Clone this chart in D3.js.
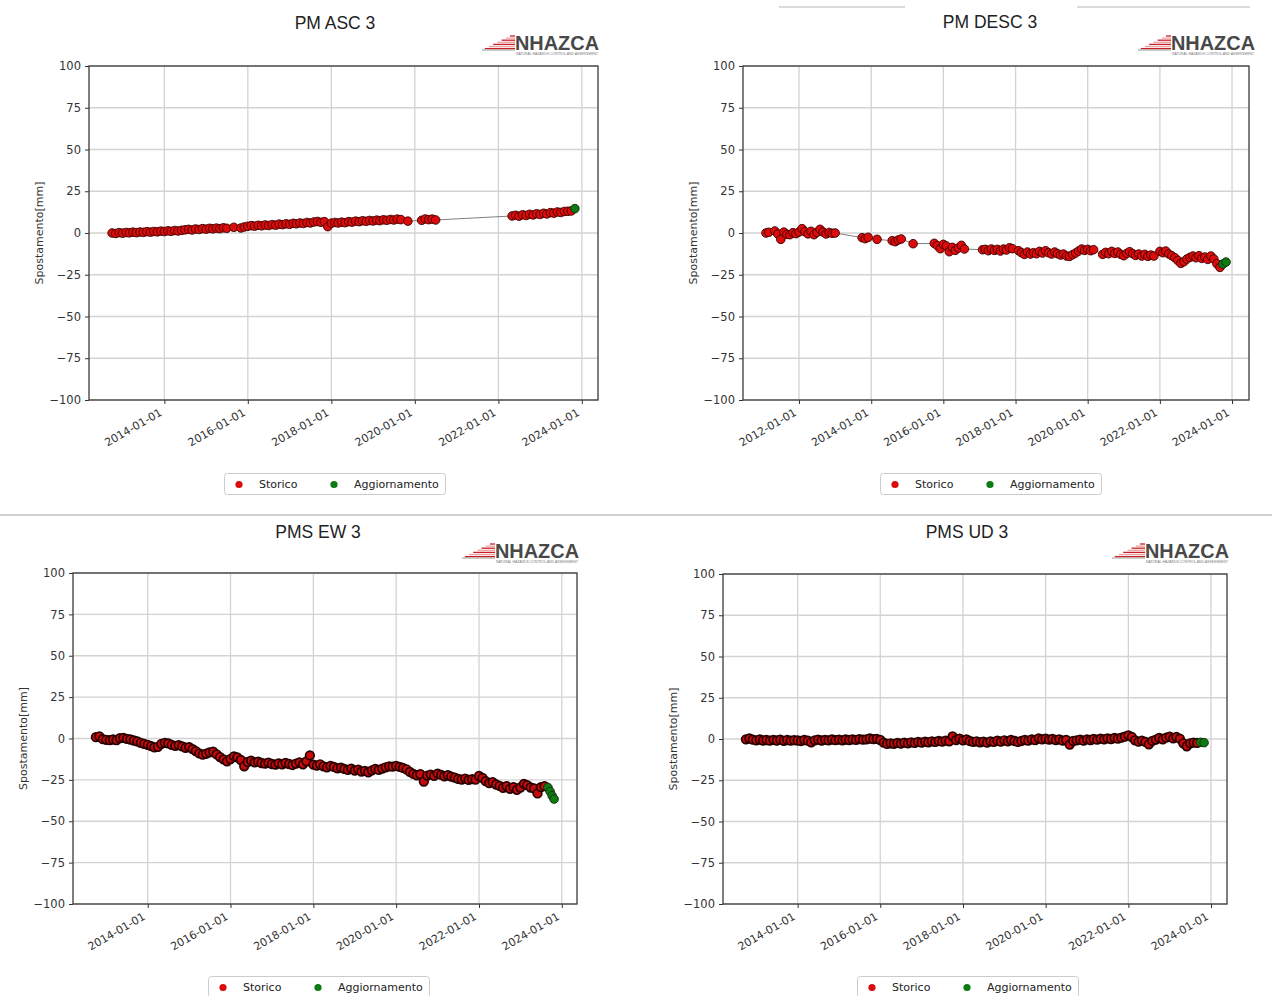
<!DOCTYPE html>
<html>
<head>
<meta charset="utf-8">
<script src="https://cdn.jsdelivr.net/npm/d3@7"></script>
<style>
body { margin: 0; background: #fff; }
svg { display: block; font-family: "DejaVu Sans", sans-serif; }
</style>
</head>
<body>
<div id="my_dataviz"></div>
<script>

// PM ASC 3
var ascDates = [
  "2012-10","2012-11","2012-12",
  "2013-01","2013-02","2013-03","2013-04","2013-05","2013-06","2013-07","2013-08","2013-09","2013-10","2013-11","2013-12",
  "2014-01","2014-02","2014-03","2014-04","2014-05","2014-06","2014-07","2014-08","2014-09","2014-10","2014-11","2014-12",
  "2015-01","2015-02","2015-03","2015-04","2015-05","2015-06","2015-07","2015-09","2015-11","2015-12",
  "2016-01","2016-02","2016-03","2016-04","2016-05","2016-06","2016-07","2016-08","2016-09","2016-10","2016-11","2016-12",
  "2017-01","2017-02","2017-03","2017-04","2017-05","2017-06","2017-07","2017-08","2017-09","2017-10","2017-11","2017-12",
  "2018-01","2018-02","2018-03","2018-04","2018-05","2018-06","2018-07","2018-08","2018-09","2018-10","2018-11","2018-12",
  "2019-01","2019-02","2019-03","2019-04","2019-05","2019-06","2019-07","2019-08","2019-09","2019-11",
  "2020-03","2020-04","2020-05","2020-06","2020-07",
  "2022-05","2022-06","2022-07","2022-08","2022-09","2022-10","2022-11","2022-12",
  "2023-01","2023-02","2023-03","2023-04","2023-05","2023-06","2023-07","2023-08","2023-09","2023-10"
];
var ascValues = [
  0.0,-0.3,0.2,
  -0.1,0.3,0.1,0.5,0.2,0.6,0.4,0.8,0.5,0.9,0.7,1.1,
  0.9,1.3,1.0,1.5,1.2,1.6,1.9,2.2,1.8,2.4,2.1,2.6,
  2.3,2.8,2.5,2.9,2.6,3.1,2.8,3.4,3.0,3.6,
  4.0,4.4,4.1,4.6,4.3,4.8,4.5,5.0,4.7,5.3,5.0,5.5,
  5.2,5.8,5.5,6.0,5.7,6.3,6.0,6.6,6.9,6.4,6.8,3.8,
  5.9,6.3,6.0,6.5,6.2,6.8,6.5,7.1,6.8,7.3,7.0,7.5,
  7.2,7.7,7.4,7.9,7.6,8.1,7.8,8.3,8.0,7.1,
  7.6,8.4,8.0,8.3,7.8,
  10.2,10.6,10.1,10.9,10.5,11.2,10.8,11.5,
  11.1,11.8,11.4,12.2,11.9,12.6,12.3,12.9,13.0,13.2
];
var ascNewDates = ["2023-11"];
var ascNewValues = [14.6];

// PM DESC 3
var descDates = [
  "2011-02","2011-03","2011-05","2011-06","2011-07","2011-08","2011-09","2011-10","2011-11","2011-12",
  "2012-01","2012-02","2012-03","2012-04","2012-05","2012-06","2012-07","2012-08","2012-09","2012-10","2012-11","2012-12",
  "2013-01","2013-10","2013-11","2013-12",
  "2014-03","2014-08","2014-09","2014-10","2014-11",
  "2015-03","2015-10","2015-11","2015-12",
  "2016-01","2016-02","2016-03","2016-04","2016-05","2016-06","2016-07","2016-08",
  "2017-02","2017-03","2017-04","2017-05","2017-06","2017-07","2017-08","2017-09","2017-10","2017-11","2017-12",
  "2018-02","2018-03","2018-04","2018-05","2018-06","2018-07","2018-08","2018-09","2018-10","2018-11","2018-12",
  "2019-01","2019-02","2019-03","2019-04","2019-05","2019-06","2019-07","2019-08","2019-09","2019-10","2019-11","2019-12",
  "2020-01","2020-02","2020-03","2020-06","2020-07","2020-08","2020-09","2020-10","2020-11","2020-12",
  "2021-01","2021-02","2021-03","2021-04","2021-05","2021-06","2021-07","2021-08","2021-09","2021-10","2021-11",
  "2022-01","2022-02","2022-03","2022-04","2022-05","2022-06","2022-07","2022-08","2022-09","2022-10","2022-11","2022-12",
  "2023-01","2023-02","2023-03","2023-04","2023-05","2023-06","2023-07","2023-08","2023-09"
];
var descValues = [
  0.0,0.4,1.2,-0.6,-3.8,0.5,-0.8,-1.0,0.2,-0.4,
  0.6,2.6,0.8,-0.5,1.0,-1.0,0.4,2.2,0.6,-0.6,0.3,-0.2,
  0.0,-2.8,-3.4,-2.6,
  -3.8,-4.6,-5.2,-4.2,-3.6,
  -6.4,-6.2,-7.6,-9.4,
  -6.8,-7.8,-11.2,-8.6,-10.4,-9.0,-7.4,-9.6,
  -10.0,-9.8,-10.6,-9.6,-10.4,-9.8,-10.8,-9.6,-10.2,-8.8,-9.4,
  -10.6,-11.8,-12.8,-11.4,-12.6,-11.8,-12.4,-11.0,-12.0,-10.6,-11.8,
  -12.6,-11.4,-12.4,-13.2,-12.6,-13.8,-14.0,-13.0,-12.0,-10.8,-9.6,-10.4,
  -9.8,-10.6,-10.0,-12.8,-11.6,-12.4,-11.0,-12.2,-11.4,-12.8,
  -13.6,-12.2,-11.2,-12.4,-13.4,-12.6,-13.8,-12.8,-14.0,-13.2,-13.8,
  -11.0,-11.8,-10.8,-12.6,-13.6,-14.8,-16.4,-18.2,-17.2,-15.6,-14.6,-13.8,
  -14.8,-13.6,-15.2,-14.4,-15.8,-13.8,-15.6,-18.4,-20.6
];
var descNewDates = ["2023-10","2023-11"];
var descNewValues = [-18.6,-17.4];

// PMS EW 3
var ewDates = [
  "2012-10","2012-11","2012-12",
  "2013-01","2013-02","2013-03","2013-04","2013-05","2013-06","2013-07","2013-08","2013-09","2013-10","2013-11","2013-12",
  "2014-01","2014-02","2014-03","2014-04","2014-05","2014-06","2014-07","2014-08","2014-09","2014-10","2014-11","2014-12",
  "2015-01","2015-02","2015-03","2015-04","2015-05","2015-06","2015-07","2015-08","2015-09","2015-10","2015-11","2015-12",
  "2016-01","2016-02","2016-03","2016-04","2016-05","2016-06","2016-07","2016-08","2016-09","2016-10","2016-11","2016-12",
  "2017-01","2017-02","2017-03","2017-04","2017-05","2017-06","2017-07","2017-08","2017-09","2017-10","2017-11","2017-12",
  "2018-01","2018-02","2018-03","2018-04","2018-05","2018-06","2018-07","2018-08","2018-09","2018-10","2018-11","2018-12",
  "2019-01","2019-02","2019-03","2019-04","2019-05","2019-06","2019-07","2019-08","2019-09","2019-10","2019-11","2019-12",
  "2020-01","2020-02","2020-03","2020-04","2020-05","2020-06","2020-07","2020-08","2020-09","2020-10","2020-11","2020-12",
  "2021-01","2021-02","2021-03","2021-04","2021-05","2021-06","2021-07","2021-08","2021-09","2021-10","2021-11","2021-12",
  "2022-01","2022-02","2022-03","2022-04","2022-05","2022-06","2022-07","2022-08","2022-09","2022-10","2022-11","2022-12",
  "2023-01","2023-02","2023-03","2023-04","2023-05","2023-06","2023-07","2023-08"
];
var ewValues = [
  0.8,1.2,-0.4,
  -0.8,-1.0,-0.6,-0.9,0.2,0.4,-0.2,-0.6,-1.2,-1.8,-2.6,-3.2,
  -3.8,-4.6,-5.4,-5.0,-3.2,-2.6,-3.0,-3.8,-4.4,-4.0,-4.8,-5.6,
  -5.2,-6.4,-7.6,-9.0,-9.8,-9.2,-8.4,-8.0,-9.6,-11.2,-12.6,-13.8,
  -12.4,-10.8,-11.4,-13.0,-16.8,-14.2,-13.4,-14.4,-14.0,-14.8,-15.2,-14.6,
  -15.4,-15.8,-15.0,-15.6,-14.8,-15.4,-16.0,-15.2,-14.4,-15.6,-13.8,-10.2,
  -15.8,-16.4,-15.6,-16.8,-17.4,-16.6,-17.2,-18.0,-17.6,-18.4,-19.0,-18.2,
  -19.4,-18.8,-20.0,-19.6,-20.4,-19.2,-18.4,-19.0,-18.2,-17.4,-16.8,-17.0,
  -16.6,-17.2,-17.8,-18.6,-20.2,-21.4,-22.2,-21.6,-26.0,-22.4,-21.8,-22.6,
  -21.2,-22.0,-22.8,-22.2,-23.0,-23.6,-24.4,-24.8,-24.2,-25.0,-24.6,-24.8,
  -22.6,-23.8,-25.8,-27.0,-26.4,-27.8,-28.6,-29.8,-28.8,-30.4,-29.4,-31.0,
  -29.6,-27.4,-28.2,-29.6,-30.2,-33.2,-29.4,-28.8
];
var ewNewDates = ["2023-09-01","2023-09-20","2023-10-08","2023-10-25"];
var ewNewValues = [-29.6,-32.0,-34.6,-36.6];

// PMS UD 3
var udDates = [
  "2012-10","2012-11","2012-12",
  "2013-01","2013-02","2013-03","2013-04","2013-05","2013-06","2013-07","2013-08","2013-09","2013-10","2013-11","2013-12",
  "2014-01","2014-02","2014-03","2014-04","2014-05","2014-06","2014-07","2014-08","2014-09","2014-10","2014-11","2014-12",
  "2015-01","2015-02","2015-03","2015-04","2015-05","2015-06","2015-07","2015-08","2015-09","2015-10","2015-11","2015-12",
  "2016-01","2016-02","2016-03","2016-04","2016-05","2016-06","2016-07","2016-08","2016-09","2016-10","2016-11","2016-12",
  "2017-01","2017-02","2017-03","2017-04","2017-05","2017-06","2017-07","2017-08","2017-09","2017-10","2017-11","2017-12",
  "2018-01","2018-02","2018-03","2018-04","2018-05","2018-06","2018-07","2018-08","2018-09","2018-10","2018-11","2018-12",
  "2019-01","2019-02","2019-03","2019-04","2019-05","2019-06","2019-07","2019-08","2019-09","2019-10","2019-11","2019-12",
  "2020-01","2020-02","2020-03","2020-04","2020-05","2020-06","2020-07","2020-08","2020-09","2020-10","2020-11","2020-12",
  "2021-01","2021-02","2021-03","2021-04","2021-05","2021-06","2021-07","2021-08","2021-09","2021-10","2021-11","2021-12",
  "2022-01","2022-02","2022-03","2022-04","2022-05","2022-06","2022-07","2022-08","2022-09","2022-10","2022-11","2022-12",
  "2023-01","2023-02","2023-03","2023-04","2023-05","2023-06","2023-07","2023-08","2023-09"
];
var udValues = [
  -0.2,0.3,-0.4,
  -0.8,-0.3,-0.9,-0.6,-1.0,-0.5,-0.9,-0.4,-1.1,-0.6,-1.0,-0.7,
  -0.9,-1.2,-0.6,-1.0,-2.0,-0.8,-0.4,-0.9,-0.5,-0.8,-0.3,-0.7,
  -0.4,-0.8,-0.3,-0.6,-0.2,-0.5,-0.1,-0.4,-0.2,0.3,-0.1,0.1,
  -0.6,-2.2,-3.0,-2.6,-2.9,-2.4,-2.8,-2.2,-2.6,-2.0,-2.4,-1.8,
  -2.2,-1.6,-2.0,-1.4,-1.8,-1.2,-1.6,-1.0,-1.4,1.6,-0.6,0.2,
  -0.8,-0.2,-1.2,-1.8,-1.4,-2.0,-1.6,-2.2,-1.4,-1.8,-1.0,-1.6,
  -0.8,-1.4,-0.6,-1.2,-1.8,-1.2,-0.6,-1.0,-0.2,-0.6,0.4,-0.2,
  0.2,-0.4,0.0,-0.6,-0.2,-1.0,-0.6,-3.4,-1.2,-0.8,-0.4,-1.0,
  -0.2,-0.6,0.0,-0.4,0.2,-0.2,0.4,0.0,0.6,0.2,0.8,1.4,
  2.2,1.2,-0.8,-1.6,-1.0,-1.8,-3.2,-1.2,-0.4,0.6,-0.2,0.8,
  1.4,0.4,1.2,0.2,-2.6,-4.4,-2.6,-2.2,-2.4
];
var udNewDates = ["2023-10","2023-11"];
var udNewValues = [-2.0,-2.2];

var yTicks = [-100,-75,-50,-25,0,25,50,75,100];
var legendLabels = ["Storico","Aggiornamento"];
var yLabel = "Spostamento[mm]";

var panels = [
  {title:"PM ASC 3", dates:ascDates, values:ascValues, newDates:ascNewDates, newValues:ascNewValues,
   left:89, right:598, top:66, bottom:400, cx:335, titleY:29, logoR:600, logoT:31, legendX:224, legendY:473, dense:false},
  {title:"PM DESC 3", dates:descDates, values:descValues, newDates:descNewDates, newValues:descNewValues,
   left:743, right:1249, top:66, bottom:400, cx:990, titleY:28, logoR:1256, logoT:31, legendX:880, legendY:473, dense:false},
  {title:"PMS EW 3", dates:ewDates, values:ewValues, newDates:ewNewDates, newValues:ewNewValues,
   left:73, right:577, top:573, bottom:904, cx:318, titleY:538, logoR:580, logoT:539, legendX:208, legendY:976, dense:true},
  {title:"PMS UD 3", dates:udDates, values:udValues, newDates:udNewDates, newValues:udNewValues,
   left:723, right:1227, top:574, bottom:904, cx:967, titleY:538, logoR:1230, logoT:539, legendX:857, legendY:976, dense:true}
];

var parseDay = d3.timeParse("%Y-%m-%d"), parseMonth = d3.timeParse("%Y-%m");
function parseDate(s){ return parseDay(s) || parseMonth(s); }
function minus(d){ return d < 0 ? "\u2212" + Math.abs(d) : "" + d; }

var svg = d3.select('#my_dataviz')
    .append('svg')
    .attr('width', 1272)
    .attr('height', 996);

// page leftovers: the divider between the two rows and two faint strokes at the top
svg.append('line').attr('x1',0).attr('x2',1272).attr('y1',515).attr('y2',515)
    .attr('stroke','#d0d0d0').attr('stroke-width',2);
svg.append('line').attr('x1',779).attr('x2',905).attr('y1',7).attr('y2',7)
    .attr('stroke','#cfcfcf').attr('stroke-width',1.5);
svg.append('line').attr('x1',1077).attr('x2',1250).attr('y1',7).attr('y2',7)
    .attr('stroke','#cfcfcf').attr('stroke-width',1.5);

panels.forEach(drawPanel);

function drawPanel(p){
    var old = p.dates.map(function(d,i){ return {date:parseDate(d), value:p.values[i], upd:false}; });
    var upd = p.newDates.map(function(d,i){ return {date:parseDate(d), value:p.newValues[i], upd:true}; });
    var all = old.concat(upd).sort(function(a,b){ return a.date - b.date; });

    var ext = d3.extent(all, function(d){ return d.date; });
    var pad = (ext[1] - ext[0]) * 0.05;
    var x = d3.scaleTime()
        .domain([new Date(+ext[0] - pad), new Date(+ext[1] + pad)])
        .range([p.left, p.right]);
    var y = d3.scaleLinear()
        .domain([-100, 100])
        .range([p.bottom, p.top]);
    var xTicks = x.ticks(d3.timeYear.every(2));

    var g = svg.append('g');

    // grid
    g.append('g').selectAll('line').data(xTicks).join('line')
        .attr('x1', function(d){ return x(d); }).attr('x2', function(d){ return x(d); })
        .attr('y1', p.top).attr('y2', p.bottom)
        .attr('stroke', '#d3d3d3').attr('stroke-width', 1.3);
    g.append('g').selectAll('line').data(yTicks).join('line')
        .attr('x1', p.left).attr('x2', p.right)
        .attr('y1', function(d){ return y(d); }).attr('y2', function(d){ return y(d); })
        .attr('stroke', '#d3d3d3').attr('stroke-width', 1.3);

    // axes
    var xa = g.append('g')
        .attr('transform', 'translate(0,' + p.bottom + ')')
        .call(d3.axisBottom(x).tickValues(xTicks).tickFormat(d3.timeFormat("%Y-%m-%d")).tickSize(4));
    xa.select('.domain').remove();
    xa.selectAll('line').attr('stroke', '#333');
    xa.selectAll('text')
        .attr('x', 0).attr('y', 0).attr('dy', '0.71em')
        .attr('transform', 'translate(-6,8) rotate(-30)')
        .style('text-anchor', 'end')
        .attr('fill', '#333')
        .attr('font-size', 11)
        .attr('font-family', '"DejaVu Sans", sans-serif');

    var ya = g.append('g')
        .attr('transform', 'translate(' + p.left + ',0)')
        .call(d3.axisLeft(y).tickValues(yTicks).tickFormat(minus).tickSize(4).tickPadding(4));
    ya.select('.domain').remove();
    ya.selectAll('line').attr('stroke', '#333');
    ya.selectAll('text')
        .attr('fill', '#333')
        .attr('font-size', 11.5)
        .attr('font-family', '"DejaVu Sans", sans-serif');

    g.append('rect')
        .attr('x', p.left).attr('y', p.top)
        .attr('width', p.right - p.left).attr('height', p.bottom - p.top)
        .attr('fill', 'none').attr('stroke', '#3a3a3a').attr('stroke-width', 1.3);

    g.append('text')
        .attr('transform', 'translate(' + (p.left - 50) + ',' + ((p.top + p.bottom) / 2) + ') rotate(-90)')
        .attr('text-anchor', 'middle')
        .attr('dy', '0.35em')
        .attr('font-size', 11)
        .attr('fill', '#333')
        .text(yLabel);

    // series
    var edge = p.dense ? 1.7 : 0.9;
    g.append('path')
        .datum(all)
        .attr('fill', 'none')
        .attr('stroke', '#808080')
        .attr('stroke-width', 1)
        .attr('d', d3.line().x(function(d){ return x(d.date); }).y(function(d){ return y(d.value); }));
    g.append('g').selectAll('circle').data(old).join('circle')
        .attr('cx', function(d){ return x(d.date); })
        .attr('cy', function(d){ return y(d.value); })
        .attr('r', 4.3)
        .attr('fill', p.dense ? '#c80a0a' : '#dd0c0c')
        .attr('stroke', p.dense ? '#260000' : '#3a0000')
        .attr('stroke-width', edge);
    g.append('g').selectAll('circle').data(upd).join('circle')
        .attr('cx', function(d){ return x(d.date); })
        .attr('cy', function(d){ return y(d.value); })
        .attr('r', 4.3)
        .attr('fill', '#0e7a12')
        .attr('stroke', '#0b2a0b')
        .attr('stroke-width', 0.9);

    // title
    svg.append('text')
        .attr('x', p.cx).attr('y', p.titleY)
        .attr('text-anchor', 'middle')
        .attr('font-family', '"Liberation Sans", Arial, sans-serif')
        .attr('font-size', 17.5)
        .attr('fill', '#222')
        .text(p.title);

    drawLogo(p.logoR, p.logoT);
    drawLegend(p.legendX, p.legendY);
}

function drawLogo(xr, yt){
    var lg = svg.append('g').attr('transform', 'translate(' + (xr - 118) + ',' + yt + ')');
    var stripes = [0,1,2,3,4,5,6];
    lg.selectAll('line.s').data(stripes).join('line')
        .attr('x1', function(i){ return 28 - i * 4.2; })
        .attr('x2', 33)
        .attr('y1', function(i){ return 5 + i * 2.1; })
        .attr('y2', function(i){ return 5 + i * 2.1; })
        .attr('stroke', function(i){ return i % 2 ? '#f0a0a0' : '#c8202a'; })
        .attr('stroke-width', 1.3);
    lg.append('line').attr('x1', 0).attr('x2', 33).attr('y1', 19).attr('y2', 19)
        .attr('stroke', '#9a9a9a').attr('stroke-width', 1);
    lg.append('text')
        .attr('x', 33).attr('y', 19)
        .attr('font-family', '"Liberation Sans", Arial, sans-serif')
        .attr('font-weight', 'bold')
        .attr('font-size', 21)
        .attr('fill', '#484848')
        .attr('textLength', 84)
        .attr('lengthAdjust', 'spacingAndGlyphs')
        .text('NHAZCA');
    lg.append('text')
        .attr('x', 34).attr('y', 23.5)
        .attr('font-family', '"Liberation Sans", Arial, sans-serif')
        .attr('font-size', 3.4)
        .attr('fill', '#777')
        .attr('textLength', 82)
        .attr('lengthAdjust', 'spacingAndGlyphs')
        .text('NATURAL HAZARDS CONTROL AND ASSESSMENT');
}

function drawLegend(lx, ly){
    var lg = svg.append('g').attr('transform', 'translate(' + lx + ',' + ly + ')');
    lg.append('rect')
        .attr('x', 0.5).attr('y', 0.5).attr('width', 221).attr('height', 21).attr('rx', 3)
        .attr('fill', '#fff').attr('stroke', '#cccccc').attr('stroke-width', 1);
    var colors = ['#dd0c0c', '#0e7a12'];
    var offs = [15, 110];
    legendLabels.forEach(function(t, i){
        lg.append('circle').attr('cx', offs[i]).attr('cy', 11.5).attr('r', 3.6)
            .attr('fill', colors[i]);
        lg.append('text').attr('x', offs[i] + 20).attr('y', 11.5).attr('dy', '0.35em')
            .attr('font-size', 11).attr('fill', '#222').text(t);
    });
}

</script>
</body>
</html>
